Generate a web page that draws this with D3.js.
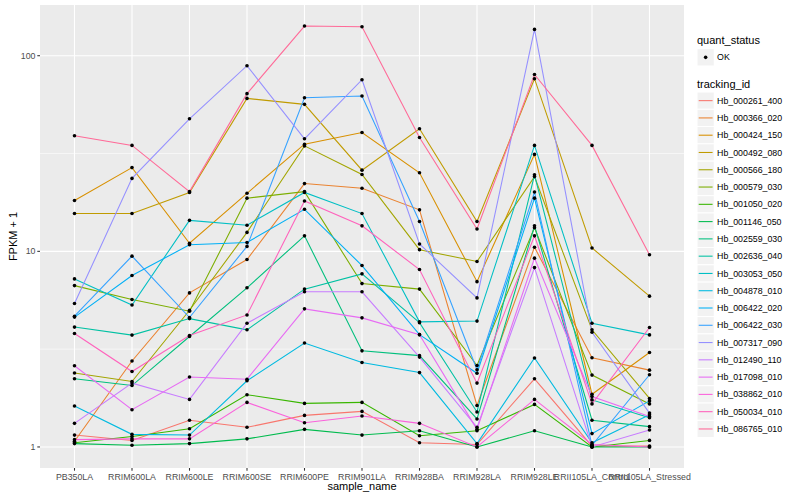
<!DOCTYPE html>
<meta charset="utf-8">
<style>
body { margin: 0; background: #fff; }
text { font-family: "Liberation Sans", Arial, sans-serif; }
.tick-label { font-size: 8.8px; fill: #4d4d4d; }
.axis-title { font-size: 11px; fill: #000; }
.legend-text { font-size: 8.8px; fill: #000; }
</style>
<svg width="800" height="500" id="chart"></svg>
<script src="https://cdn.jsdelivr.net/npm/d3@7"></script>
<script>

// samples on the x axis
var sampleNames = ["PB350LA", "RRIM600LA", "RRIM600LE", "RRIM600SE", "RRIM600PE", "RRIM901LA",
  "RRIM928BA", "RRIM928LA", "RRIM928LE", "RRII105LA_Control", "RRII105LA_Stressed"];

// FPKM + 1, one array per tracking_id
var Hb_000261_400 = [1.15, 1.08, 1.37, 1.26, 1.45, 1.52, 1.05, 1.03, 2.23, 1.01, 1.01];
var Hb_000366_020 = [1.07, 2.75, 6.13, 9.08, 22.2, 21.0, 16.3, 1.63, 10.5, 2.86, 2.47];
var Hb_000424_150 = [18.2, 26.8, 11.0, 19.8, 35.3, 40.5, 25.2, 7.0, 31.3, 1.86, 3.04];
var Hb_000492_080 = [15.6, 15.6, 20.0, 60.5, 56.4, 26.0, 42.3, 14.2, 76.3, 10.4, 5.9];
var Hb_000566_180 = [2.39, 2.16, 5.00, 12.5, 34.6, 24.7, 10.2, 8.87, 24.1, 3.97, 1.77];
var Hb_000579_030 = [6.68, 5.67, 4.94, 18.7, 20.2, 6.84, 6.41, 2.61, 13.2, 2.33, 1.66];
var Hb_001050_020 = [1.05, 1.13, 1.24, 1.85, 1.67, 1.69, 1.14, 1.21, 1.65, 1.00, 1.08];
var Hb_001146_050 = [1.04, 1.02, 1.04, 1.10, 1.23, 1.15, 1.21, 1.00, 1.21, 1.00, 1.00];
var Hb_002559_030 = [2.23, 2.06, 3.67, 6.51, 12.0, 3.10, 2.93, 1.39, 13.5, 1.37, 1.27];
var Hb_002636_040 = [4.10, 3.73, 4.53, 3.97, 6.41, 7.67, 4.32, 1.51, 24.6, 1.74, 1.41];
var Hb_003053_050 = [7.23, 5.32, 14.4, 13.6, 20.0, 15.6, 4.36, 4.40, 34.8, 4.29, 3.74];
var Hb_004878_010 = [1.62, 1.16, 1.15, 2.18, 3.40, 2.70, 2.40, 1.04, 2.85, 1.05, 1.46];
var Hb_006422_020 = [4.61, 7.52, 10.8, 11.1, 16.4, 8.46, 3.75, 2.38, 18.7, 1.17, 1.72];
var Hb_006422_030 = [4.66, 9.45, 4.59, 10.6, 61.0, 62.2, 14.2, 2.48, 20.1, 1.02, 2.34];
var Hb_007317_090 = [5.41, 23.6, 47.6, 88.9, 37.6, 75.4, 10.9, 5.78, 136.3, 3.86, 1.49];
var Hb_012490_110 = [1.32, 2.12, 1.75, 4.29, 6.21, 6.21, 2.88, 1.26, 8.26, 1.00, 1.22];
var Hb_017098_010 = [2.60, 1.55, 2.28, 2.22, 5.08, 4.57, 3.75, 1.23, 9.23, 1.81, 1.43];
var Hb_038862_010 = [1.09, 1.10, 1.10, 1.69, 1.33, 1.44, 1.32, 1.00, 1.75, 1.03, 1.00];
var Hb_050034_010 = [3.80, 2.43, 3.71, 4.73, 18.1, 13.5, 8.07, 2.12, 12.0, 1.66, 4.08];
var Hb_086765_010 = [39.0, 34.8, 20.2, 64.0, 141.8, 140.7, 38.2, 13.0, 80.2, 34.8, 9.6];

var trackingIds = ["Hb_000261_400", "Hb_000366_020", "Hb_000424_150", "Hb_000492_080", "Hb_000566_180",
  "Hb_000579_030", "Hb_001050_020", "Hb_001146_050", "Hb_002559_030", "Hb_002636_040",
  "Hb_003053_050", "Hb_004878_010", "Hb_006422_020", "Hb_006422_030", "Hb_007317_090",
  "Hb_012490_110", "Hb_017098_010", "Hb_038862_010", "Hb_050034_010", "Hb_086765_010"];
var seriesValues = [Hb_000261_400, Hb_000366_020, Hb_000424_150, Hb_000492_080, Hb_000566_180,
  Hb_000579_030, Hb_001050_020, Hb_001146_050, Hb_002559_030, Hb_002636_040,
  Hb_003053_050, Hb_004878_010, Hb_006422_020, Hb_006422_030, Hb_007317_090,
  Hb_012490_110, Hb_017098_010, Hb_038862_010, Hb_050034_010, Hb_086765_010];

var yTicks = [1, 10, 100];
var yMinor = [Math.sqrt(10), Math.sqrt(1000)];
var quantStatus = ["OK"];

// polar LUV -> sRGB, like R's hcl(), so the hues match ggplot's default palette
function hcl(h, c, l) {
  var Xn = 0.95047, Yn = 1.0, Zn = 1.08883;
  var hr = h * Math.PI / 180;
  var U = c * Math.cos(hr), V = c * Math.sin(hr);
  var Y = l > 7.999592 ? Math.pow((l + 16) / 116, 3) : l / 903.3;
  var un = 4 * Xn / (Xn + 15 * Yn + 3 * Zn), vn = 9 * Yn / (Xn + 15 * Yn + 3 * Zn);
  var u = U / (13 * l) + un, v = V / (13 * l) + vn;
  var X = 9.0 * Y * u / (4 * v);
  var Z = -X / 3 - 5 * Y + 3 * Y / v;
  function g(x) {
    x = x > 0.0031308 ? 1.055 * Math.pow(x, 1 / 2.4) - 0.055 : 12.92 * x;
    return Math.round(255 * Math.max(0, Math.min(1, x)));
  }
  return d3.rgb(g(3.240479 * X - 1.537150 * Y - 0.498535 * Z),
                g(-0.969256 * X + 1.875992 * Y + 0.041556 * Z),
                g(0.055648 * X - 0.204043 * Y + 1.057311 * Z)).formatHex();
}
var n = trackingIds.length;
var colors = trackingIds.map(function(d, i) { return hcl(15 + 360 / n * i, 100, 65); });

var svg = d3.select("#chart");
var pLeft = 40, pRight = 684, pTop = 5, pBottom = 468;

var x = d3.scalePoint().domain(sampleNames).range([pLeft, pRight]).padding(0.6);

var lo = Math.log10(d3.min(seriesValues, function(s) { return d3.min(s); }));
var hi = Math.log10(d3.max(seriesValues, function(s) { return d3.max(s); }));
var pad = (hi - lo) * 0.05;
var y = d3.scaleLog().domain([Math.pow(10, lo - pad), Math.pow(10, hi + pad)]).range([pBottom, pTop]);

// panel
svg.append("rect").attr("x", pLeft).attr("y", pTop)
  .attr("width", pRight - pLeft).attr("height", pBottom - pTop).attr("fill", "#ebebeb");

svg.selectAll(".minor").data(yMinor).enter().append("line")
  .attr("x1", pLeft).attr("x2", pRight)
  .attr("y1", function(d) { return y(d); }).attr("y2", function(d) { return y(d); })
  .attr("stroke", "#fff").attr("stroke-width", 0.55);

svg.selectAll(".majory").data(yTicks).enter().append("line")
  .attr("x1", pLeft).attr("x2", pRight)
  .attr("y1", function(d) { return y(d); }).attr("y2", function(d) { return y(d); })
  .attr("stroke", "#fff").attr("stroke-width", 1.1);

svg.selectAll(".majorx").data(sampleNames).enter().append("line")
  .attr("x1", function(d) { return x(d); }).attr("x2", function(d) { return x(d); })
  .attr("y1", pTop).attr("y2", pBottom)
  .attr("stroke", "#fff").attr("stroke-width", 1.1);

// lines
var line = d3.line()
  .x(function(d, i) { return x(sampleNames[i]); })
  .y(function(d) { return y(d); });

svg.selectAll(".series").data(seriesValues).enter().append("path")
  .attr("d", line)
  .attr("fill", "none")
  .attr("stroke", function(d, i) { return colors[i]; })
  .attr("stroke-width", 1.07);

// points
seriesValues.forEach(function(s) {
  svg.append("g").selectAll("circle").data(s).enter().append("circle")
    .attr("cx", function(d, i) { return x(sampleNames[i]); })
    .attr("cy", function(d) { return y(d); })
    .attr("r", 1.8)
    .attr("fill", "#000");
});

// axes
var yAxis = svg.append("g");
yTicks.forEach(function(t) {
  yAxis.append("line").attr("x1", pLeft - 2.7).attr("x2", pLeft)
    .attr("y1", y(t)).attr("y2", y(t)).attr("stroke", "#333").attr("stroke-width", 1.07);
  yAxis.append("text").attr("class", "tick-label")
    .attr("x", pLeft - 4.5).attr("y", y(t) + 3.1)
    .attr("text-anchor", "end").text(t);
});

var xAxis = svg.append("g");
sampleNames.forEach(function(s) {
  xAxis.append("line").attr("x1", x(s)).attr("x2", x(s))
    .attr("y1", pBottom).attr("y2", pBottom + 2.7).attr("stroke", "#333").attr("stroke-width", 1.07);
  xAxis.append("text").attr("class", "tick-label")
    .attr("x", x(s)).attr("y", pBottom + 11.5)
    .attr("text-anchor", "middle").text(s);
});

svg.append("text").attr("class", "axis-title")
  .attr("x", (pLeft + pRight) / 2).attr("y", 490)
  .attr("text-anchor", "middle").text("sample_name");

svg.append("text").attr("class", "axis-title")
  .attr("transform", "translate(17," + ((pTop + pBottom) / 2) + ") rotate(-90)")
  .attr("text-anchor", "middle").text("FPKM + 1");

// legends
var lx = 697, key = 17.28;
svg.append("text").attr("class", "axis-title").attr("x", lx).attr("y", 44).text("quant_status");
var qs = svg.append("g").selectAll("g").data(quantStatus).enter().append("g")
  .attr("transform", function(d, i) { return "translate(" + lx + "," + (48.7 + i * key) + ")"; });
qs.append("rect").attr("width", key).attr("height", key).attr("fill", "#f2f2f2").attr("stroke", "#fff");
qs.append("circle").attr("cx", key / 2).attr("cy", key / 2).attr("r", 1.8).attr("fill", "#000");
qs.append("text").attr("class", "legend-text").attr("x", key + 2.8).attr("y", key / 2 + 3.1)
  .text(function(d) { return d; });

svg.append("text").attr("class", "axis-title").attr("x", lx).attr("y", 88).text("tracking_id");
var tk = svg.append("g").selectAll("g").data(trackingIds).enter().append("g")
  .attr("transform", function(d, i) { return "translate(" + lx + "," + (92 + i * key) + ")"; });
tk.append("rect").attr("width", key).attr("height", key).attr("fill", "#f2f2f2").attr("stroke", "#fff");
tk.append("line").attr("x1", 1.7).attr("x2", key - 1.7)
  .attr("y1", key / 2).attr("y2", key / 2)
  .attr("stroke", function(d, i) { return colors[i]; }).attr("stroke-width", 1.07);
tk.append("text").attr("class", "legend-text").attr("x", key + 2.8).attr("y", key / 2 + 3.1)
  .text(function(d) { return d; });

</script>
